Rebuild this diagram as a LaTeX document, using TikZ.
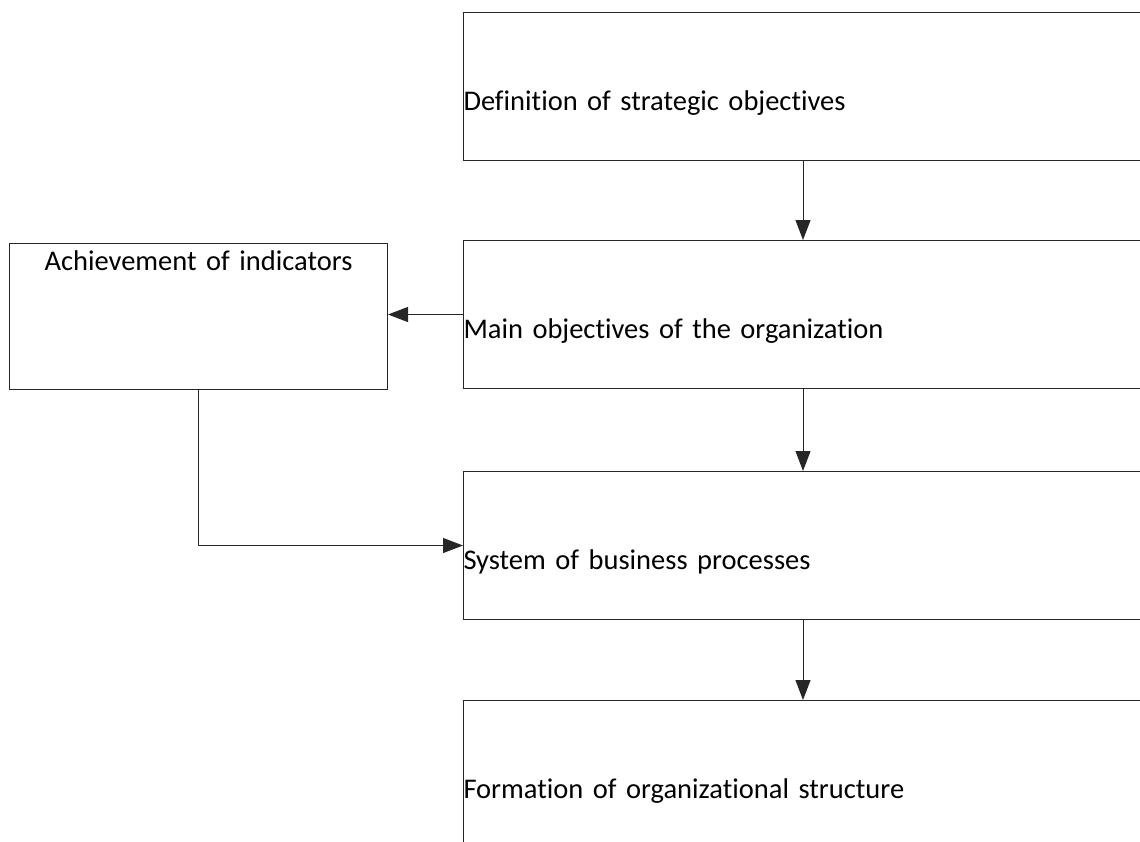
\documentclass[tikz,border=0pt]{standalone}
\usepackage{fontspec}
\setmainfont{Carlito}[RawFeature=-liga]
\usetikzlibrary{arrows.meta}
\begin{document}
\begin{tikzpicture}[x=1pt,y=-1pt,
  every node/.style={font=\fontsize{28.5}{32}\selectfont},
  stage/.style={draw=black!85, line width=1pt, rectangle, inner sep=0pt,
    minimum width=679pt, minimum height=148pt, text width=679pt,
    align=left, text height=47pt, text depth=0pt, anchor=north west},
  sidebox/.style={draw=black!85, line width=1pt, rectangle, inner sep=0pt,
    minimum width=378pt, minimum height=146pt, text width=378pt,
    align=center, text height=0pt, text depth=92pt, anchor=north west},
  link/.style={draw=black!85, line width=1pt, -{Triangle[length=20pt,width=15pt]}}]
\useasboundingbox (0,0) rectangle (1140,841);
\clip (0,0) rectangle (1140,841);

% main chain of stages
\node[stage] (def)  at (463,12)  {Definition of strategic objectives};
\node[stage] (main) at (463,240) {Main objectives of the organization};
\node[stage] (sys)  at (463,471) {System of business processes};
\node[stage] (form) at (463,700) {Formation of organizational structure};

% feedback box
\node[sidebox] (ach) at (9,243) {Achievement of indicators};

% connectors
\draw[link] (def.south) -- (main.north);
\draw[link] (main.south) -- (sys.north);
\draw[link] (sys.south) -- (form.north);
\draw[link] (main.west) -- (main.west -| ach.east);
\draw[link] (ach.south) |- (sys.west);
\end{tikzpicture}
\end{document}
